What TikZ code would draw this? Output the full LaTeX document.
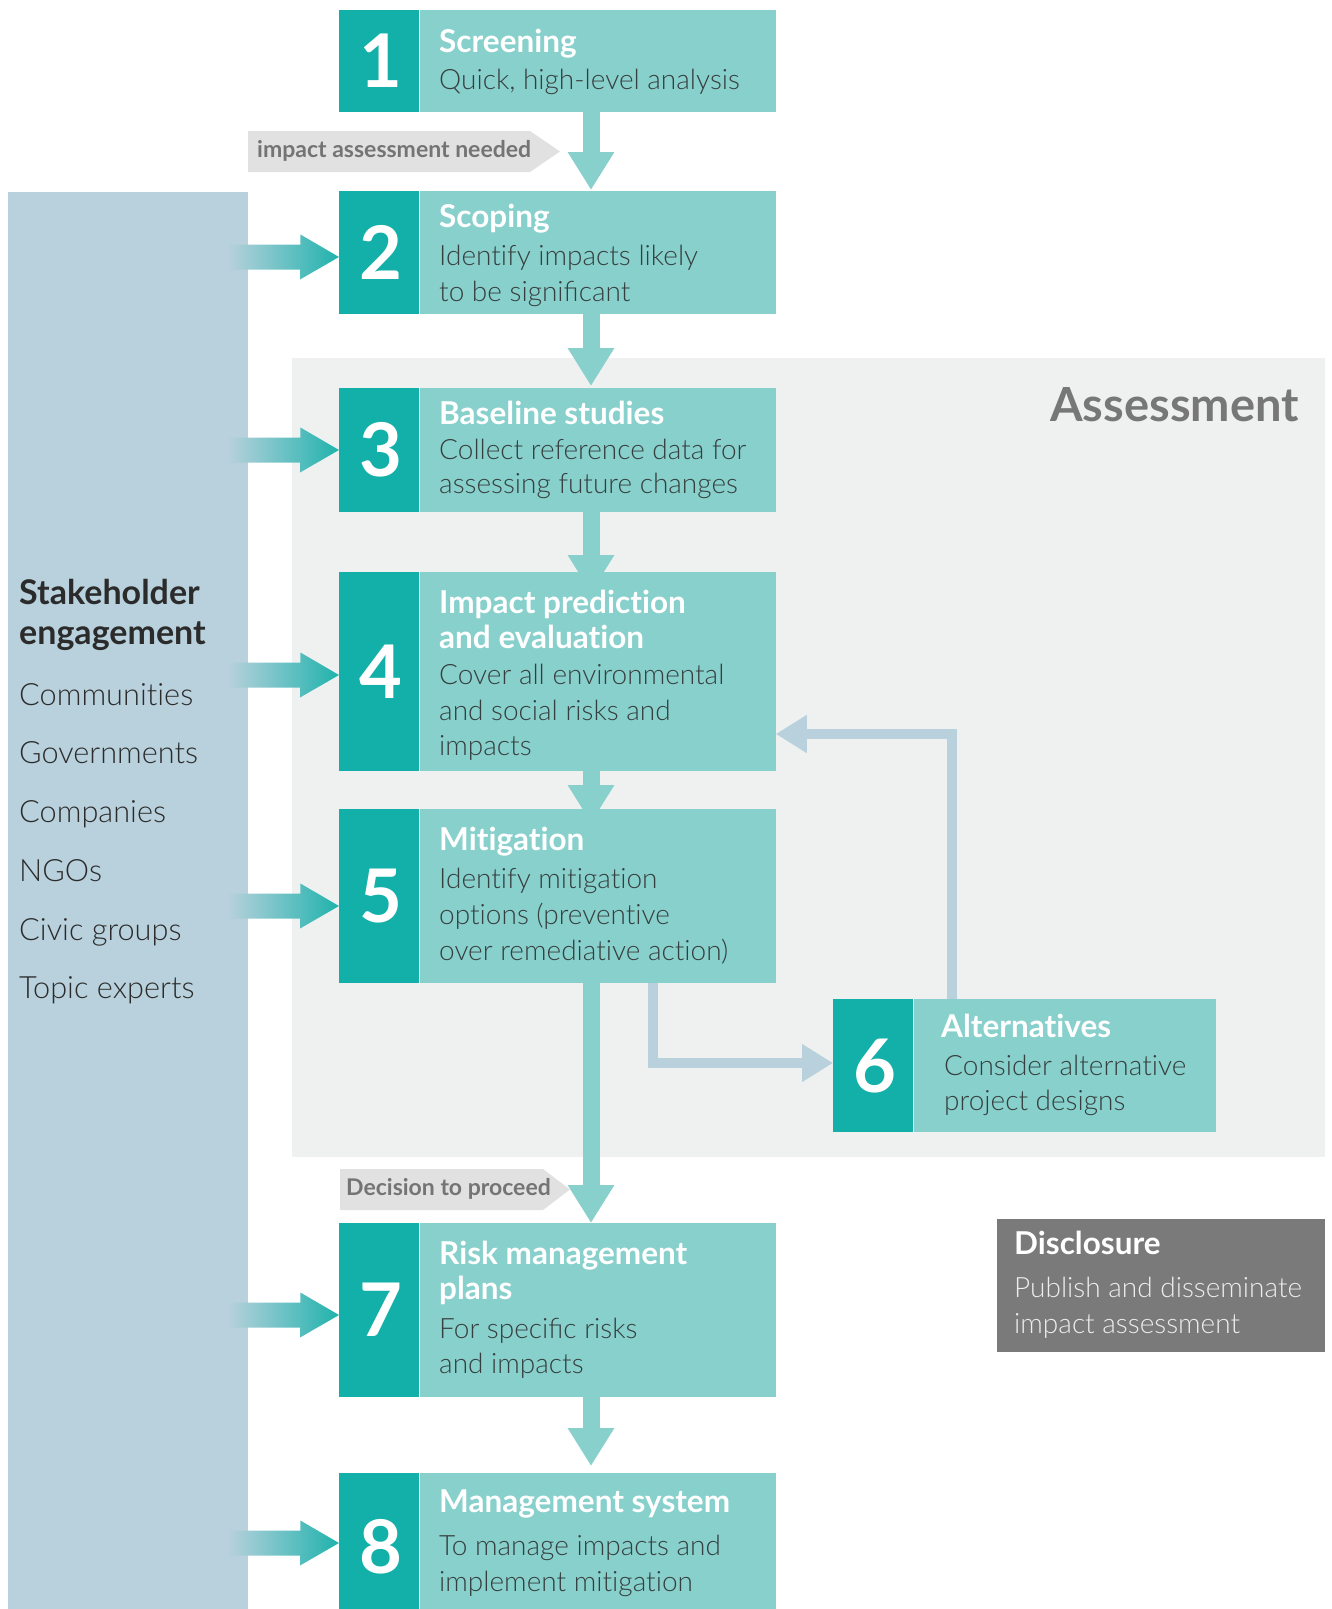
\documentclass[tikz,border=0pt]{standalone}
\usepackage{fontspec}
\newfontfamily\LatoL{Lato Light}[Ligatures=NoCommon]
\newfontfamily\LatoB{Lato Bold}[Ligatures=NoCommon]
\usetikzlibrary{arrows.meta}
\definecolor{tealD}{HTML}{12B0A8}
\definecolor{tealL}{HTML}{88D0CC}
\definecolor{barc}{HTML}{B8D1DC}
\definecolor{areac}{HTML}{EFF1F0}
\definecolor{lblc}{HTML}{E1E1E1}
\definecolor{lbltxt}{HTML}{747474}
\definecolor{bodytxt}{HTML}{363F3F}
\definecolor{asstxt}{HTML}{777777}
\definecolor{discc}{HTML}{7A7A7A}
\definecolor{disctxt}{HTML}{EDEDED}
\definecolor{stktxt}{HTML}{2B2B2B}
\pgfdeclarelayer{back}\pgfdeclarelayer{mid}\pgfsetlayers{back,mid,main}
\tikzset{
  numbox/.style={fill=tealD, inner sep=0pt, minimum width=80pt, text=white,
    font=\LatoB\fontsize{74}{74}\selectfont},
  bodybox/.style={fill=tealL, inner sep=0pt},
  ttl/.style={anchor=base west, inner sep=0pt, text=white, font=\LatoB\fontsize{31.5}{36}\selectfont},
  bdy/.style={anchor=base west, inner sep=0pt, text=bodytxt, font=\LatoL\fontsize{28}{36}\selectfont},
  stkttl/.style={anchor=base west, inner sep=0pt, text=stktxt, font=\LatoB\fontsize{34}{40}\selectfont},
  stkitem/.style={anchor=base west, inner sep=0pt, text=stktxt, font=\LatoL\fontsize{30.7}{40}\selectfont},
  lbl/.style={anchor=base west, inner sep=0pt, text=lbltxt, font=\LatoB\fontsize{23}{26}\selectfont},
  varr/.style={draw=tealL, line width=17pt, -{Triangle[length=38pt,width=44pt]}},
  farr/.style={draw=barc, line width=10pt, line join=miter, -{Triangle[length=31pt,width=36pt]}},
  sarr/.style={left color=barc, right color=tealD!92!barc, draw=none},
}
\newcommand\stepbox[6]{%
  \node[numbox, minimum height=#5pt, anchor=north west] (n#1) at (#3,#4) {\hspace*{3pt}#2};
  \node[bodybox, minimum height=#5pt, minimum width=#6pt, anchor=north west] (b#1) at (n#1.north east) {};}
\newcommand\sarrow[2]{%
  \shade[sarr] (bar.east |- 0,#2) ++(-20,-12.5) -- ++(72,0) -- ++(0,-10) -- (#1.west |- 0,#2)
    -- ++(-39,22.5) -- ++(0,-10) -- ++(-72,0) -- cycle;}
\begin{document}
\begin{tikzpicture}[x=1pt,y=-1pt]
\useasboundingbox (0,0) rectangle (1332,1609);

% boxes
\stepbox{1}{1}{339}{10}{102}{356}
\stepbox{2}{2}{339}{191}{123}{356}
\stepbox{3}{3}{339}{388}{124}{356}
\stepbox{4}{4}{339}{572}{199}{356}
\stepbox{5}{5}{339}{809}{174}{356}
\stepbox{6}{6}{833}{999}{133}{302}
\stepbox{7}{7}{339}{1223}{174}{356}
\stepbox{8}{8}{339}{1473}{147}{356}

% backgrounds
\begin{pgfonlayer}{back}
\node[fill=areac, inner sep=0pt, minimum width=1033pt, minimum height=799pt, anchor=north west] (assess) at (292,358) {};
\node[fill=barc, inner sep=0pt, minimum width=240pt, minimum height=1430pt, anchor=north west] (bar) at (8,192) {};
\fill[lblc] (248,131) -- (530,131) -- (560,151.5) -- (530,172) -- (248,172) -- cycle;
\fill[lblc] (340,1169) -- (543,1169) -- (570,1189.5) -- (543,1210) -- (340,1210) -- cycle;
\end{pgfonlayer}

% connectors
\begin{pgfonlayer}{mid}
\coordinate (ax) at (591,0);
\draw[varr, shorten >=1pt] (b1.south -| ax) -- (b2.north -| ax);
\draw[varr, shorten >=2pt] (b2.south -| ax) -- (b3.north -| ax);
\draw[varr, shorten >=-21pt] (b3.south -| ax) -- (b4.north -| ax);
\draw[varr, shorten >=-14pt] (b4.south -| ax) -- (b5.north -| ax);
\draw[varr] (b5.south -| ax) -- (b7.north -| ax);
\draw[varr, shorten >=7pt] (b7.south -| ax) -- (b8.north -| ax);
\coordinate (f1) at (653,1063);
\draw[farr] (b5.south -| f1) -- (f1) -- (f1 -| n6.west);
\coordinate (f2) at (952,734);
\draw[farr] (b6.north -| f2) -- (f2) -- (f2 -| b4.east);
\sarrow{n2}{257}
\sarrow{n3}{450}
\sarrow{n4}{675}
\sarrow{n5}{906}
\sarrow{n7}{1315}
\sarrow{n8}{1543}
\end{pgfonlayer}

% labels
\node[lbl] (lblA) at (257,157) {impact assessment needed};
\node[lbl] (lblB) at (346,1195) {Decision to proceed};
\node[anchor=base east, inner sep=0pt, text=asstxt, font=\LatoB\fontsize{47}{50}\selectfont] (asst) at (1299,421) {Assessment};

% box texts
\node[ttl] (t1a) at (439,52) {Screening};
\node[bdy] (t1b) at (439,89) {Quick, high-level analysis};
\node[ttl] (t2a) at (439,227) {Scoping};
\node[bdy] (t2b) at (439,265) {Identify impacts likely};
\node[bdy] (t2c) at (439,301) {to be signiﬁcant};
\node[ttl] (t3a) at (439,424) {Baseline studies};
\node[bdy] (t3b) at (439,459) {Collect reference data for};
\node[bdy] (t3c) at (439,493) {assessing future changes};
\node[ttl] (t4a) at (439,613) {Impact prediction};
\node[ttl] (t4b) at (439,648) {and evaluation};
\node[bdy] (t4c) at (439,684) {Cover all environmental};
\node[bdy] (t4d) at (439,720) {and social risks and};
\node[bdy] (t4e) at (439,755) {impacts};
\node[ttl] (t5a) at (439,850) {Mitigation};
\node[bdy] (t5b) at (439,888) {Identify mitigation};
\node[bdy] (t5c) at (439,924) {options (preventive};
\node[bdy] (t5d) at (439,960) {over remediative action)};
\node[ttl] (t6a) at (941,1037) {Alternatives};
\node[bdy] (t6b) at (944,1075) {Consider alternative};
\node[bdy] (t6c) at (944,1110) {project designs};
\node[ttl] (t7a) at (439,1264) {Risk management};
\node[ttl] (t7b) at (439,1299) {plans};
\node[bdy] (t7c) at (439,1338) {For speciﬁc risks};
\node[bdy] (t7d) at (439,1373) {and impacts};
\node[ttl] (t8a) at (439,1512) {Management system};
\node[bdy] (t8b) at (439,1555) {To manage impacts and};
\node[bdy] (t8c) at (439,1591) {implement mitigation};

% stakeholder
\node[stkttl] (s1) at (19,604) {Stakeholder};
\node[stkttl] (s2) at (19,644) {engagement};
\node[stkitem] (s3) at (19,705) {Communities};
\node[stkitem] (s4) at (19,763) {Governments};
\node[stkitem] (s5) at (19,822) {Companies};
\node[stkitem] (s6) at (19,881) {NGOs};
\node[stkitem] (s7) at (19,940) {Civic groups};
\node[stkitem] (s8) at (19,998) {Topic experts};

% disclosure
\node[fill=discc, inner sep=0pt, minimum width=328pt, minimum height=133pt, anchor=north west] (disc) at (997,1219) {};
\node[ttl] (d1) at (1014,1254) {Disclosure};
\node[bdy, text=disctxt, font=\LatoL\fontsize{28}{36}\selectfont] (d2) at (1014,1297) {Publish and disseminate};
\node[bdy, text=disctxt, font=\LatoL\fontsize{28}{36}\selectfont] (d3) at (1014,1333) {impact assessment};
\end{tikzpicture}
\end{document}
